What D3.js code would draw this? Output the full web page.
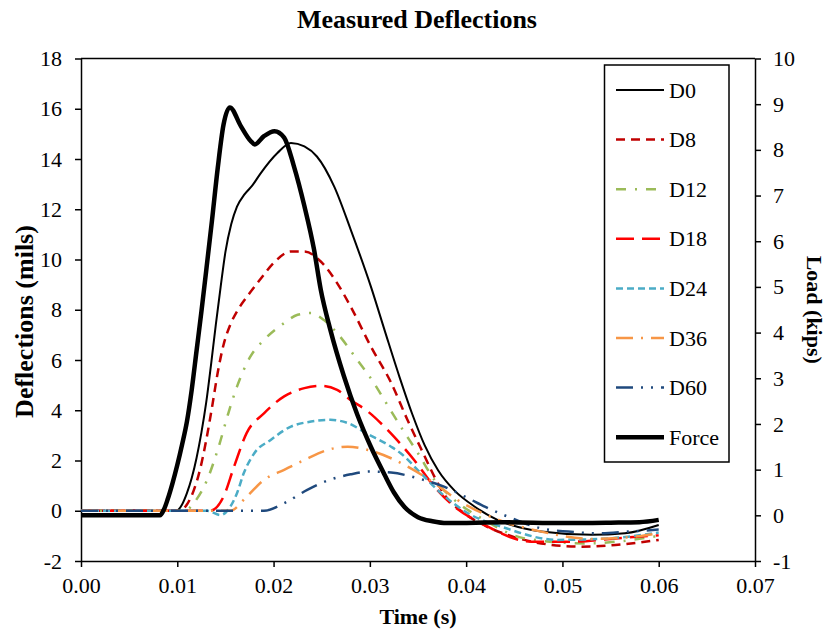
<!DOCTYPE html>
<html>
<head>
<meta charset="utf-8">
<script src="https://cdn.jsdelivr.net/npm/d3@7"></script>
<style>
  body { margin: 0; background: #fff; }
  svg text { font-family: "Liberation Serif", "Times New Roman", serif; fill: #000; }
</style>
</head>
<body>
<svg id="chart" width="827" height="631"></svg>
<script>
// time (s), deflection (mils) pairs
const D0 = [[0, 0], [0.0099, 0], [0.0105, 0.25], [0.011, 0.7], [0.0115, 1.3], [0.012, 2.1], [0.0125, 3.1],
    [0.013, 4.3], [0.0135, 5.8], [0.014, 7.4], [0.0145, 8.9], [0.015, 10.3], [0.0156, 11.4], [0.0162, 12.1],
    [0.017, 12.6], [0.0178, 12.95], [0.0186, 13.4], [0.0204, 14.24],
    [0.0218, 14.64], [0.0232, 14.5], [0.0245, 14.1], [0.0263, 12.9], [0.028, 11.2], [0.0301, 8.93],
    [0.0316, 7.1], [0.0331, 5.3], [0.0344, 3.85], [0.0357, 2.6], [0.0371, 1.6], [0.0388, 0.8],
    [0.0409, 0.16], [0.0433, -0.37], [0.0447, -0.57], [0.0478, -0.83], [0.053, -0.96], [0.0565, -0.9], [0.06, -0.57]];
const D8 = [[0, 0], [0.0103, 0], [0.011, 0.25], [0.0117, 0.8], [0.0124, 1.7], [0.013, 2.8], [0.0136, 4.1],
    [0.0142, 5.5], [0.0148, 6.6], [0.0155, 7.4], [0.0163, 8.0], [0.0172, 8.5], [0.0186, 9.2], [0.02, 9.86],
    [0.0218, 10.32], [0.0232, 10.32],
    [0.0249, 9.92], [0.0266, 9.06], [0.028, 8.13], [0.0301, 6.54], [0.0322, 5.1], [0.0339, 3.62], [0.0357, 2.16],
    [0.0367, 1.36], [0.0377, 0.66], [0.0398, -0.1], [0.042, -0.6], [0.045, -1.05], [0.0489, -1.36],
    [0.052, -1.43], [0.0555, -1.36], [0.06, -1.16]];
const D12 = [[0, 0], [0.0108, 0], [0.0117, 0.3], [0.0131, 1.23], [0.0143, 2.55], [0.0153, 3.88], [0.0162, 4.94],
    [0.0176, 6.14], [0.019, 6.8], [0.0211, 7.47], [0.0225, 7.8], [0.0239, 7.87], [0.0252, 7.6], [0.0266, 7.07],
    [0.0287, 6.0], [0.0304, 5.1], [0.0315, 4.41], [0.0332, 3.35], [0.035, 2.29], [0.0367, 1.23], [0.0384, 0.56],
    [0.0419, -0.37], [0.0461, -1.1], [0.0524, -1.3], [0.06, -1.0]];
const D18 = [[0, 0], [0.0134, 0], [0.0148, 0.56], [0.0159, 1.76], [0.0172, 3.09], [0.019, 3.88], [0.0211, 4.55],
    [0.0232, 4.88], [0.0249, 4.97], [0.0266, 4.81], [0.028, 4.41], [0.0298, 3.95], [0.0315, 3.35], [0.0325, 2.95],
    [0.0346, 2.02], [0.0367, 0.96], [0.0388, 0.16], [0.0416, -0.5], [0.0468, -1.23], [0.0513, -1.23],
    [0.0555, -1.1], [0.06, -0.98]];
const D24 = [[0, 0], [0.0131, 0], [0.0145, -0.17], [0.0155, 0.16], [0.0162, 0.7], [0.0169, 1.49], [0.018, 2.29],
    [0.0197, 2.82], [0.0218, 3.35], [0.0239, 3.55], [0.0259, 3.62], [0.0277, 3.49], [0.0298, 3.05],
    [0.0322, 2.55], [0.0332, 2.29], [0.0353, 1.49], [0.0374, 0.7], [0.0402, -0.1], [0.0438, -0.65],
    [0.0495, -1.16], [0.0548, -1.1], [0.06, -0.87]];
const D36 = [[0, 0], [0.0155, 0], [0.0172, 0.56], [0.019, 1.23], [0.0211, 1.63], [0.0232, 2.02], [0.0256, 2.42],
    [0.0277, 2.55], [0.0298, 2.42], [0.0322, 2.09], [0.0339, 1.76], [0.0367, 1.1], [0.0391, 0.43],
    [0.0423, -0.2], [0.0478, -0.83], [0.053, -1.12], [0.0582, -1.0], [0.06, -0.9]];
const D60 = [[0, 0], [0.019, 0], [0.0211, 0.3], [0.0235, 0.83], [0.0256, 1.2], [0.028, 1.45], [0.03, 1.56],
    [0.0322, 1.52], [0.035, 1.29], [0.0377, 0.96], [0.0402, 0.5], [0.042, 0.15], [0.0443, -0.23],
    [0.0478, -0.7], [0.0506, -0.83], [0.0537, -0.9], [0.0568, -0.83], [0.06, -0.75]];
// time (s), load (kips)
const FORCE = [[0, 0], [0.0082, 0], [0.0086, 0.12], [0.009, 0.35], [0.0095, 0.7], [0.01, 1.1], [0.0105, 1.55],
    [0.011, 2.05], [0.0115, 2.75], [0.012, 3.6], [0.0125, 4.45], [0.013, 5.35], [0.0136, 6.45], [0.0142, 7.6],
    [0.0148, 8.55], [0.01545, 8.93], [0.0166, 8.52], [0.0176, 8.2], [0.01805, 8.12], [0.019, 8.3], [0.0201, 8.41],
    [0.0211, 8.27], [0.0221, 7.65], [0.0232, 6.77], [0.0242, 5.82], [0.0249, 4.94], [0.0259, 4.06],
    [0.0273, 3.05], [0.0287, 2.2], [0.0301, 1.5], [0.0315, 0.9], [0.0325, 0.5], [0.0336, 0.18],
    [0.035, -0.04], [0.0365, -0.13], [0.038, -0.17], [0.044, -0.15], [0.05, -0.17], [0.055, -0.16],
    [0.058, -0.15], [0.06, -0.1]];

const xTicks = [0, 0.01, 0.02, 0.03, 0.04, 0.05, 0.06, 0.07];
const leftTicks = [-2, 0, 2, 4, 6, 8, 10, 12, 14, 16, 18];
const rightTicks = [-1, 0, 1, 2, 3, 4, 5, 6, 7, 8, 9, 10];

const series = [
    {name: 'D0', data: D0, axis: 'left', color: '#000000', width: 2, dash: null},
    {name: 'D8', data: D8, axis: 'left', color: '#C00000', width: 2.5, dash: '9,6'},
    {name: 'D12', data: D12, axis: 'left', color: '#9BBB59', width: 2.5, dash: '10,9,2,9'},
    {name: 'D18', data: D18, axis: 'left', color: '#FF0000', width: 2.5, dash: '18,8'},
    {name: 'D24', data: D24, axis: 'left', color: '#4BACC6', width: 2.5, dash: '7,4'},
    {name: 'D36', data: D36, axis: 'left', color: '#F79646', width: 2.5, dash: '17,8,2,8'},
    {name: 'D60', data: D60, axis: 'left', color: '#1F497D', width: 2.5, dash: '17,8,2,8,2,8'},
    {name: 'Force', data: FORCE, axis: 'right', color: '#000000', width: 4.5, dash: null}
];

const serif = '"Liberation Serif", "Times New Roman", serif';
let margin = {top: 58.5, left: 81, right: 755, bottom: 561};
let svg = d3.select('#chart');

let xScale = d3.scaleLinear().domain([0, 0.07]).range([margin.left, margin.right]);
let yLeft = d3.scaleLinear().domain([-2, 18]).range([margin.bottom, margin.top]);
let yRight = d3.scaleLinear().domain([-1, 10]).range([margin.bottom, margin.top]);

// title
svg.append('text')
    .attr('x', 417)
    .attr('y', 28)
    .attr('text-anchor', 'middle')
    .style('font-family', serif)
    .style('font-size', '26px')
    .style('font-weight', 'bold')
    .text('Measured Deflections');

// plot frame top
svg.append('line')
    .attr('x1', margin.left).attr('x2', margin.right)
    .attr('y1', margin.top).attr('y2', margin.top)
    .attr('stroke', '#000').attr('stroke-width', 1.5);

// axes
function styleAxis(g) {
    g.attr('font-family', null);
    g.select('.domain').attr('stroke', '#000').attr('stroke-width', 1.5);
    g.selectAll('.tick line').attr('stroke', '#000').attr('stroke-width', 1.5);
    g.selectAll('text')
        .style('font-family', serif)
        .style('font-size', '22px')
        .attr('fill', '#000');
}

svg.append('g')
    .attr('transform', 'translate(0,' + margin.bottom + ')')
    .call(d3.axisBottom(xScale).tickValues(xTicks).tickSize(6).tickSizeOuter(0).tickPadding(10)
        .tickFormat(d3.format('.2f')))
    .call(styleAxis);

svg.append('g')
    .attr('transform', 'translate(' + margin.left + ',0)')
    .call(d3.axisLeft(yLeft).tickValues(leftTicks).tickSize(6).tickSizeOuter(0).tickPadding(13)
        .tickFormat(d => d))
    .call(styleAxis);

svg.append('g')
    .attr('transform', 'translate(' + margin.right + ',0)')
    .call(d3.axisRight(yRight).tickValues(rightTicks).tickSize(6).tickSizeOuter(0).tickPadding(12)
        .tickFormat(d => d))
    .call(styleAxis);

// axis titles
svg.append('text')
    .attr('transform', 'translate(33,321.5) rotate(-90)')
    .attr('text-anchor', 'middle')
    .style('font-family', serif)
    .style('font-size', '26px')
    .style('font-weight', 'bold')
    .text('Deflections (mils)');

svg.append('text')
    .attr('transform', 'translate(807,' + ((margin.top + margin.bottom) / 2) + ') rotate(90)')
    .attr('text-anchor', 'middle')
    .style('font-family', serif)
    .style('font-size', '22px')
    .style('font-weight', 'bold')
    .text('Load (kips)');

svg.append('text')
    .attr('x', 418)
    .attr('y', 624)
    .attr('text-anchor', 'middle')
    .style('font-family', serif)
    .style('font-size', '22px')
    .style('font-weight', 'bold')
    .text('Time (s)');

// lines
let g = svg.append('g').classed('lines', true);
series.forEach(s => {
    let yS = s.axis === 'left' ? yLeft : yRight;
    let line = d3.line()
        .x(d => xScale(d[0]))
        .y(d => yS(d[1]))
        .curve(d3.curveMonotoneX);
    g.append('path')
        .datum(s.data)
        .attr('fill', 'none')
        .attr('stroke', s.color)
        .attr('stroke-width', s.width)
        .attr('stroke-dasharray', s.dash)
        .attr('stroke-linejoin', 'round')
        .attr('d', line);
});

// legend
let legend = svg.append('g').attr('class', 'legend');
legend.append('rect')
    .attr('x', 604.5).attr('y', 65)
    .attr('width', 124.5).attr('height', 397)
    .attr('fill', '#fff')
    .attr('stroke', '#000')
    .attr('stroke-width', 1.5);
let items = legend.selectAll('g.item')
    .data(series)
    .enter()
    .append('g')
    .attr('class', 'item')
    .attr('transform', (d, i) => 'translate(0,' + (90 + i * 49.6) + ')');
items.append('line')
    .attr('x1', 616).attr('x2', 664)
    .attr('y1', 0).attr('y2', 0)
    .attr('stroke', d => d.color)
    .attr('stroke-width', d => d.width)
    .attr('stroke-dasharray', d => d.dash);
items.append('text')
    .attr('x', 669)
    .attr('y', 7.5)
    .style('font-family', serif)
    .style('font-size', '22px')
    .text(d => d.name);
</script>
</body>
</html>
